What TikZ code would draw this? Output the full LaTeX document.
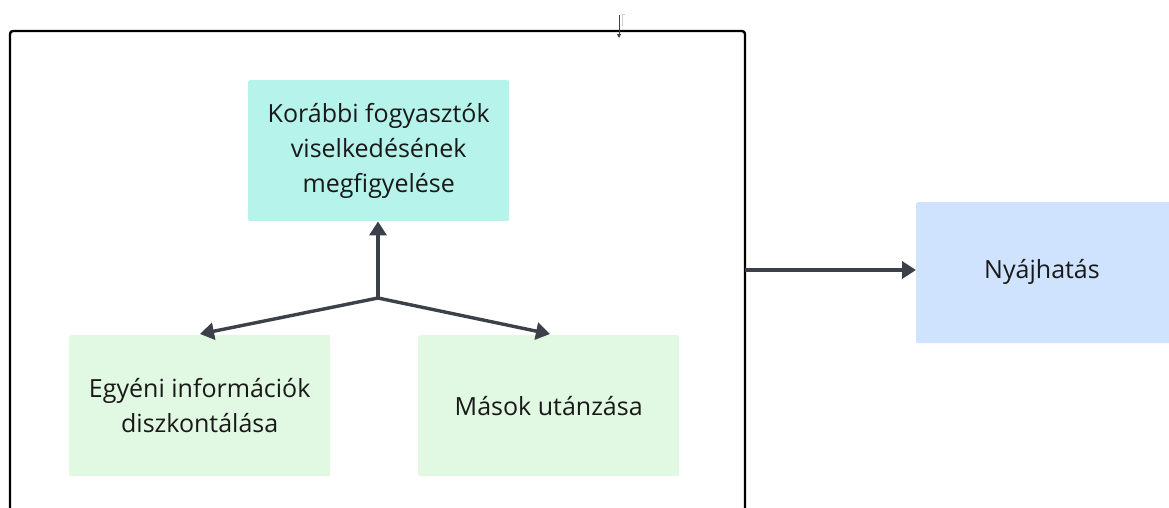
\documentclass[tikz,border=0pt]{standalone}
\usepackage{fontspec}
\setmainfont{Open Sans}
\usetikzlibrary{arrows.meta}
\definecolor{teal1}{HTML}{B6F3EB}
\definecolor{green1}{HTML}{E1F8E3}
\definecolor{blue1}{HTML}{CFE2FE}
\definecolor{arr}{HTML}{3C4048}
\tikzset{
  boxfont/.style={font=\fontsize{25pt}{35pt}\selectfont, text=black!90},
  box/.style={rounded corners=2pt, minimum width=261pt, minimum height=141pt, align=center, inner sep=0pt, boxfont},
  conn/.style={draw=arr, line width=3.4pt, -{Triangle[length=14pt,width=17pt]}},
}
\begin{document}
\begin{tikzpicture}[x=1pt,y=-1pt]
\useasboundingbox (0,0) rectangle (1169,507);
\clip (0,0) rectangle (1169,507);
\draw[line width=2.4pt, rounded corners=3pt] (10,540) -- (10,31) -- (745,31) -- (745,540);
\coordinate (fr) at (745,270);
\node[box, fill=teal1, anchor=north west] (top) at (248,80) {Korábbi fogyasztók\\viselkedésének\\megfigyelése};
\node[box, fill=green1, anchor=north west] (left) at (69,335) {Egyéni információk\\diszkontálása};
\node[box, fill=green1, anchor=north west] (right) at (418,335) {Mások utánzása};
\node[box, fill=blue1, anchor=north west, minimum width=270pt] (ny) at (916,202) {};
\node[boxfont] (nyt) at (1042,272) {Nyájhatás};
\coordinate (j) at (378,298);
\coordinate (le) at (200,334);
\coordinate (re) at (550,334);
\draw[conn] (j) -- (top.south -| j);
\draw[conn] (j) -- (le);
\draw[conn] (j) -- (re);
\draw[conn] (fr) -- (ny.west |- fr);
\coordinate (sa) at (619,15);
\coordinate (sb) at (619,38);
\draw[draw=arr, line width=1pt, -{Triangle[length=4pt,width=4pt]}] (sa) -- (sb);
\draw[black!20, line width=0.6pt] (622,26) -- (622,14) -- (625,14);
\end{tikzpicture}
\end{document}
